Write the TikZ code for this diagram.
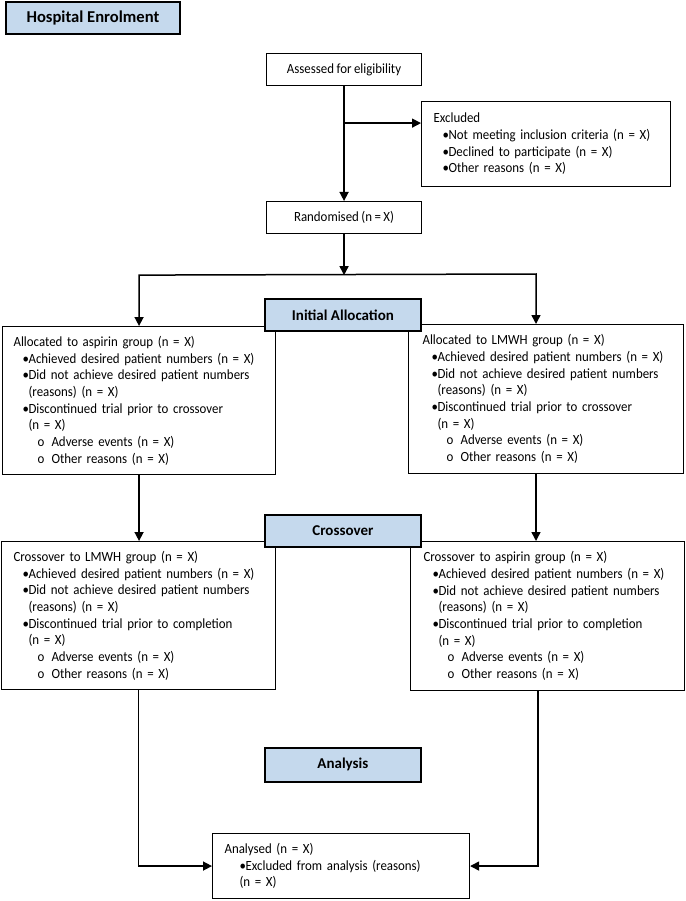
\documentclass[tikz,border=0pt]{standalone}
\usepackage{fontspec}
\setmainfont{Carlito}[FakeStretch=0.92, WordSpace=0.85]
\newfontfamily\hdrfont{Carlito}
\usetikzlibrary{arrows.meta,calc}
\definecolor{hdrblue}{HTML}{C5D9ED}
\newcommand{\bi}{\hspace*{9pt}\makebox[6pt][l]{•}}
\newcommand{\ci}{\hspace*{15pt}}
\newcommand{\si}{\hspace*{24pt}\makebox[14pt][l]{o}}
\begin{document}
\begin{tikzpicture}[x=1pt,y=-1pt,
  box/.style={draw, line width=1.1pt, fill=white, anchor=north west, align=left,
    inner ysep=0pt, font=\fontsize{14}{16.67}\selectfont},
  cbox/.style={draw, line width=1.1pt, fill=white, anchor=north west, align=center,
    inner sep=0pt, font=\fontsize{14}{16.67}\selectfont},
  hdr/.style={draw, line width=1.8pt, fill=hdrblue, anchor=north west, align=center,
    inner sep=0pt, font=\hdrfont\fontsize{15}{17}\selectfont\bfseries},
  arr/.style={line width=1.5pt, -{Triangle[length=9pt,width=9pt]}},
  arrtwo/.style={line width=1.5pt, {Triangle[length=9pt,width=9pt]}-{Triangle[length=9pt,width=9pt]}},
  ln/.style={line width=1.5pt}]
\useasboundingbox (0,0) rectangle (685,901);

% boxes
\node[cbox, minimum width=155pt, minimum height=32pt] (assess) at (266,53) {Assessed for eligibility};
\node[box, minimum width=249pt, minimum height=85pt, inner xsep=12pt, text width=225pt] (excl) at (421,101)
  {Excluded\\
   \bi Not meeting inclusion criteria (n = X)\\
   \bi Declined to participate (n = X)\\
   \bi Other reasons (n = X)};
\node[cbox, minimum width=155pt, minimum height=32pt] (rand) at (266,201) {Randomised (n = X)};

\node[box, minimum width=273pt, minimum height=148pt, inner xsep=11pt, text width=251pt] (allocL) at (2,326)
  {Allocated to aspirin group (n = X)\\
   \bi Achieved desired patient numbers (n = X)\\
   \bi Did not achieve desired patient numbers\\
   \ci (reasons) (n = X)\\
   \bi Discontinued trial prior to crossover\\
   \ci (n = X)\\
   \si Adverse events (n = X)\\
   \si Other reasons (n = X)};
\node[box, minimum width=275pt, minimum height=149pt, inner xsep=14pt, text width=247pt] (allocR) at (408,324)
  {Allocated to LMWH group (n = X)\\
   \bi Achieved desired patient numbers (n = X)\\
   \bi Did not achieve desired patient numbers\\
   \ci (reasons) (n = X)\\
   \bi Discontinued trial prior to crossover\\
   \ci (n = X)\\
   \si Adverse events (n = X)\\
   \si Other reasons (n = X)};

\node[box, minimum width=274pt, minimum height=148pt, inner xsep=12pt, text width=250pt] (crossL) at (1,541)
  {Crossover to LMWH group (n = X)\\
   \bi Achieved desired patient numbers (n = X)\\
   \bi Did not achieve desired patient numbers\\
   \ci (reasons) (n = X)\\
   \bi Discontinued trial prior to completion\\
   \ci (n = X)\\
   \si Adverse events (n = X)\\
   \si Other reasons (n = X)};
\node[box, minimum width=274pt, minimum height=149pt, inner xsep=13pt, text width=248pt] (crossR) at (410,541)
  {Crossover to aspirin group (n = X)\\
   \bi Achieved desired patient numbers (n = X)\\
   \bi Did not achieve desired patient numbers\\
   \ci (reasons) (n = X)\\
   \bi Discontinued trial prior to completion\\
   \ci (n = X)\\
   \si Adverse events (n = X)\\
   \si Other reasons (n = X)};

\node[box, minimum width=257pt, minimum height=65pt, inner xsep=12pt, text width=233pt] (anal) at (212,833)
  {Analysed (n = X)\\
   \hspace*{15pt}\makebox[6pt][l]{•}Excluded from analysis (reasons)\\
   \hspace*{15pt}(n = X)};

% connectors
\draw[arr] (assess.south) -- (rand.north);
\coordinate (brX) at ([yshift=-37pt]assess.south);
\draw[arr] (brX) -- (brX -| excl.west);

\coordinate (split) at ([yshift=-41pt]rand.south);
\draw[arr] (rand.south) -- (split);
\coordinate (sL) at (split -| allocL.north);
\coordinate (sR) at (536,274);
\draw[arrtwo] (sL |- allocL.north) -- (sL) -- (sR) -- (sR |- allocR.north);

\draw[arr] (allocL.south) -- (allocL.south |- crossL.north);
\draw[arr] (sR |- allocR.south) -- (sR |- crossR.north);

\coordinate (cR) at ([xshift=2pt]sR);
\draw[arr] (crossL.south) |- (anal.west);
\draw[arr] (cR |- crossR.south) |- (anal.east);

% headers
\node[hdr, minimum width=174pt, minimum height=32pt, font=\hdrfont\fontsize{16.6}{18}\selectfont\bfseries] (hosp) at (5,1) {Hospital Enrolment};
\node[hdr, minimum width=156pt, minimum height=32pt] (hinit) at (264,298) {Initial Allocation};
\node[hdr, minimum width=156pt, minimum height=32pt] (hcross) at (264,514) {Crossover};
\node[hdr, minimum width=156pt, minimum height=34pt] (hanal) at (264,747) {Analysis};
\end{tikzpicture}
\end{document}
